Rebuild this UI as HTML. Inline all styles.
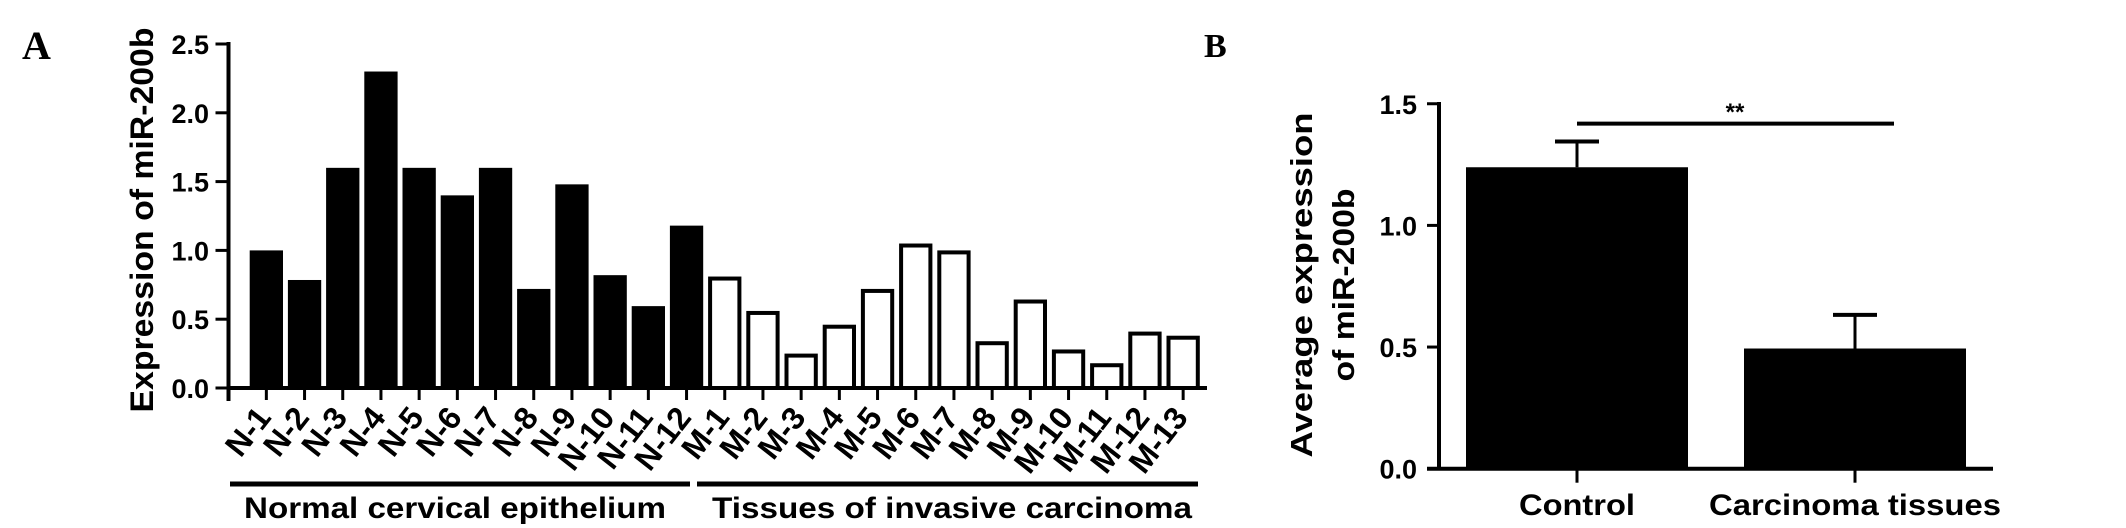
<!DOCTYPE html>
<html><head><meta charset="utf-8"><style>
html,body{margin:0;padding:0;background:#fff;}
svg{display:block;font-family:"Liberation Sans",Arial,sans-serif;}
</style></head><body>
<svg id="fig" width="2126" height="528" viewBox="0 0 2126 528" xmlns="http://www.w3.org/2000/svg">
<text x="22" y="59" font-family="Liberation Serif,serif" font-weight="bold" font-size="40">A</text>
<text x="1204" y="57" font-family="Liberation Serif,serif" font-weight="bold" font-size="34">B</text>
<g id="chartA"></g>
<g id="chartB"></g>
</svg>
<script>
const aCategories = ["N-1","N-2","N-3","N-4","N-5","N-6","N-7","N-8","N-9","N-10","N-11","N-12","M-1","M-2","M-3","M-4","M-5","M-6","M-7","M-8","M-9","M-10","M-11","M-12","M-13"];
const aValues = [1.00,0.785,1.60,2.30,1.60,1.40,1.60,0.72,1.48,0.82,0.595,1.18,0.81,0.56,0.25,0.46,0.72,1.05,1.00,0.34,0.643,0.28,0.18,0.41,0.38];
const aTicks = ["0.0","0.5","1.0","1.5","2.0","2.5"];
const bCategories = ["Control","Carcinoma tissues"];
const bMeans = [1.239,0.494];
const bErrors = [0.106,0.138];
const bTicks = ["0.0","0.5","1.0","1.5"];

const NS="http://www.w3.org/2000/svg";
function mk(parent,tag,attrs,text){const e=document.createElementNS(NS,tag);for(const k in attrs)e.setAttribute(k,attrs[k]);if(text!==undefined)e.textContent=text;parent.appendChild(e);return e;}

// Panel A
const gA=document.getElementById('chartA');
const axA=228.5, baseA=388, unitA=137.6, firstA=249.7, pitchA=38.2, bwA=33.3;
const yA=v=>baseA-v*unitA;
const xA=i=>firstA+i*pitchA;
aValues.forEach((v,i)=>{
  const filled=aCategories[i].startsWith('N');
  const r=filled?mk(gA,'rect',{x:xA(i),y:yA(v),width:bwA,height:baseA-yA(v),fill:'#000'})
    :mk(gA,'rect',{x:xA(i)+2,y:yA(v)+2,width:bwA-4,height:baseA-yA(v)-2,fill:'#fff',stroke:'#000','stroke-width':4});
  
  
  const cx=xA(i)+bwA/2;
  const t=mk(gA,'line',{x1:cx,y1:baseA,x2:cx,y2:baseA+12,stroke:'#000','stroke-width':3});
  
  
  const lx=cx+6, ly=418;
  const lb=mk(gA,'text',{x:lx,y:ly,'text-anchor':'end','font-weight':'bold','font-size':32,transform:`rotate(-52 ${lx} ${ly})`},aCategories[i]);
  
  
});
let e;
e=mk(gA,'line',{x1:axA,y1:42,x2:axA,y2:baseA+13,stroke:'#000','stroke-width':4});

e=mk(gA,'line',{x1:axA-2,y1:baseA,x2:1207,y2:baseA,stroke:'#000','stroke-width':4});

aTicks.forEach((s,i)=>{
  const y=yA(parseFloat(s));
  const t=mk(gA,'line',{x1:axA-13,y1:y,x2:axA,y2:y,stroke:'#000','stroke-width':3});
  
  const l=mk(gA,'text',{x:209,y:y+10,'text-anchor':'end','font-weight':'bold','font-size':27},s);
  
});
e=mk(gA,'text',{x:0,y:0,'text-anchor':'middle','font-weight':'bold','font-size':32,textLength:385,lengthAdjust:'spacingAndGlyphs',transform:'translate(153 220) rotate(-90)'},'Expression of miR-200b');

e=mk(gA,'line',{x1:230,y1:484,x2:690,y2:484,stroke:'#000','stroke-width':5});

e=mk(gA,'line',{x1:697,y1:484,x2:1198,y2:484,stroke:'#000','stroke-width':5});

e=mk(gA,'text',{x:244,y:518,'font-weight':'bold','font-size':30,textLength:422,lengthAdjust:'spacingAndGlyphs'},'Normal cervical epithelium');

e=mk(gA,'text',{x:712,y:518,'font-weight':'bold','font-size':30,textLength:480,lengthAdjust:'spacingAndGlyphs'},'Tissues of invasive carcinoma');


// Panel B
const gB=document.getElementById('chartB');
const axB=1439, baseB=468.7, unitB=243.3;
const yB=v=>baseB-v*unitB;
const bLeft=[1466,1744], bW=222;
bMeans.forEach((m,i)=>{
  const x=bLeft[i], cx=x+bW/2;
  const r=mk(gB,'rect',{x:x,y:yB(m),width:bW,height:baseB-yB(m),fill:'#000'});
  
  
  const top=yB(m+bErrors[i]);
  const el=mk(gB,'line',{x1:cx,y1:yB(m),x2:cx,y2:top,stroke:'#000','stroke-width':3});
  
  const ec=mk(gB,'line',{x1:cx-22,y1:top,x2:cx+22,y2:top,stroke:'#000','stroke-width':4});
  
  const t=mk(gB,'line',{x1:cx,y1:baseB,x2:cx,y2:baseB+14,stroke:'#000','stroke-width':3});
  
  const l=mk(gB,'text',{x:cx,y:515,'text-anchor':'middle','font-weight':'bold','font-size':30,textLength:i?292:116,lengthAdjust:'spacingAndGlyphs'},bCategories[i]);
  
});
e=mk(gB,'line',{x1:axB,y1:102,x2:axB,y2:baseB,stroke:'#000','stroke-width':4});

e=mk(gB,'line',{x1:axB-12,y1:baseB,x2:1993,y2:baseB,stroke:'#000','stroke-width':4});

bTicks.forEach(s=>{
  const y=yB(parseFloat(s));
  const t=mk(gB,'line',{x1:axB-12,y1:y,x2:axB,y2:y,stroke:'#000','stroke-width':3});
  
  const l=mk(gB,'text',{x:1417,y:y+10,'text-anchor':'end','font-weight':'bold','font-size':27},s);
  
});
e=mk(gB,'text',{x:0,y:0,'text-anchor':'middle','font-weight':'bold','font-size':31,textLength:345,lengthAdjust:'spacingAndGlyphs',transform:'translate(1312 285) rotate(-90)'},'Average expression');

e=mk(gB,'text',{x:0,y:0,'text-anchor':'middle','font-weight':'bold','font-size':31,textLength:193,lengthAdjust:'spacingAndGlyphs',transform:'translate(1354 285) rotate(-90)'},'of miR-200b');

e=mk(gB,'line',{x1:1577,y1:123.6,x2:1894,y2:123.6,stroke:'#000','stroke-width':4});

e=mk(gB,'text',{x:1735,y:120,'text-anchor':'middle','font-weight':'bold','font-size':24},'**');

</script>
</body></html>
